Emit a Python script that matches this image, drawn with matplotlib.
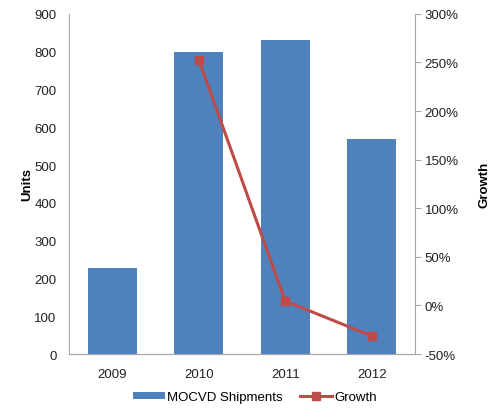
import matplotlib
matplotlib.use("Agg")
import matplotlib.pyplot as plt
from matplotlib.ticker import FuncFormatter

plt.rcParams['font.family'] = ['Liberation Sans', 'DejaVu Sans']

years = ["2009", "2010", "2011", "2012"]
shipments = [228, 800, 832, 570]
growth_years = ["2010", "2011", "2012"]
growth = [253, 4.5, -31.5]

fig = plt.figure(figsize=(5, 4.14), dpi=100)
ax = fig.add_axes([0.138, 0.1425, 0.692, 0.8215])
x = range(len(years))
bars = ax.bar(x, shipments, width=0.57, color="#4F81BD", label="MOCVD Shipments", zorder=2)
ax.set_xlim(-0.5, 3.5)
ax.set_ylim(0, 900)
ax.set_yticks(range(0, 901, 100))
ax.set_xticks(list(x))
ax.set_xticklabels(years)
ax.set_ylabel("Units", fontweight="bold", fontsize=9.5, labelpad=1)

ax2 = ax.twinx()
gx = [years.index(y) for y in growth_years]
line, = ax2.plot(gx, growth, color="#BE4B48", lw=2.2, marker="s", ms=6,
                 label="Growth", zorder=3)
ax2.set_ylim(-50, 300)
ax2.set_yticks(range(-50, 301, 50))
ax2.yaxis.set_major_formatter(FuncFormatter(lambda v, _: f"{v:g}%"))
ax2.set_ylabel("Growth", fontweight="bold", fontsize=9.5, labelpad=14)

for a in (ax, ax2):
    a.spines["top"].set_visible(False)
    for s in ("left", "right", "bottom"):
        a.spines[s].set_color("#A6A6A6")
    a.tick_params(labelsize=9.5, colors="#222222")
ax.tick_params(axis="y", length=0, pad=9)
ax.tick_params(axis="x", length=0, pad=10)
ax2.tick_params(axis="y", length=4, color="#A6A6A6", pad=3)
ax2.spines["left"].set_visible(False)
ax.spines["right"].set_visible(False)

fig.legend([bars, line], ["MOCVD Shipments", "Growth"], loc="center",
           bbox_to_anchor=(0.51, 0.038), ncol=2, frameon=False, fontsize=9.5,
           handlelength=2.4, handleheight=0.5, columnspacing=1.3, handletextpad=0.2)

fig.savefig("out.png", dpi=100)
